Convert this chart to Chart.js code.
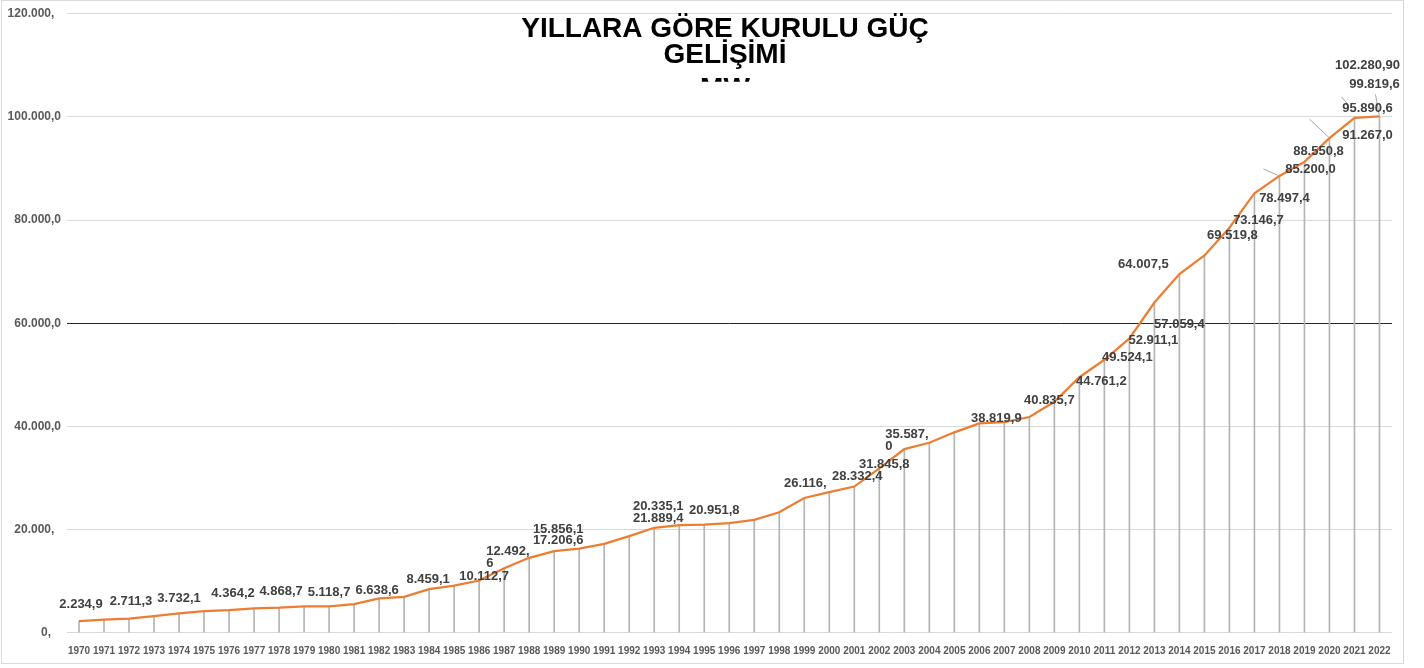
<!DOCTYPE html>
<html>
<head>
<meta charset="utf-8">
<title>Yıllara Göre Kurulu Güç Gelişimi</title>
<script src="https://cdn.jsdelivr.net/npm/chart.js@4.4.0/dist/chart.umd.min.js"></script>
<style>
  html, body { margin: 0; padding: 0; background: #fff; }
  #frame { position: absolute; left: 1px; top: 0; width: 1401px; height: 662px; border: 1px solid #d9d9d9; }
  #chart { display: block; }
</style>
</head>
<body>
<div id="frame"><canvas id="chart" width="1401" height="662"></canvas></div>
<script>
var years = ['1970', '1971', '1972', '1973', '1974', '1975', '1976', '1977', '1978', '1979',
  '1980', '1981', '1982', '1983', '1984', '1985', '1986', '1987', '1988', '1989',
  '1990', '1991', '1992', '1993', '1994', '1995', '1996', '1997', '1998', '1999',
  '2000', '2001', '2002', '2003', '2004', '2005', '2006', '2007', '2008', '2009',
  '2010', '2011', '2012', '2013', '2014', '2015', '2016', '2017', '2018', '2019',
  '2020', '2021', '2022'];

// kurulu guc, MW
var capacityMW = [2234.9, 2534.8, 2711.3, 3193.7, 3732.1, 4186.6, 4364.2, 4727.1, 4868.7, 5118.7,
  5118.7, 5537.6, 6638.6, 6935.1, 8461.6, 9121.5, 10112.7, 12495.1, 14520.6, 15808.0,
  16317.6, 17206.6, 18716.1, 20337.6, 20859.8, 20951.7, 21249.4, 21891.9, 23354.0, 26119.3,
  27264.1, 28332.4, 31845.8, 35587.0, 36824.0, 38843.5, 40564.8, 40835.7, 41817.2, 44761.2,
  49524.1, 52911.1, 57059.4, 64007.5, 69519.8, 73146.7, 78497.4, 85200.0, 88550.8, 91267.0,
  95890.6, 99819.6, 100100.0];

var yTickValues = [0, 20000, 40000, 60000, 80000, 100000, 120000];
var yTickLabels = ['0,   ', '20.000,  ', '40.000,0', '60.000,0', '80.000,0', '100.000,0', '120.000,  '];

var titleLines = ['YILLARA GÖRE KURULU GÜÇ', 'GELİŞİMİ', 'MW'];

var labelYears = ['1970', '1972', '1974', '1976', '1978', '1980', '1982', '1984', '1986', '1987',
  '1989', '1989', '1993', '1993', '1995', '1999', '2001', '2002', '2003', '2007',
  '2009', '2010', '2011', '2012', '2013', '2014', '2016', '2017', '2018', '2019',
  '2020', '2021', '2021', '2022', '2022'];
var labelTexts = ['2.234,9', '2.711,3', '3.732,1', '4.364,2', '4.868,7', '5.118,7', '6.638,6', '8.459,1', '10.112,7', '12.492,\n6',
  '15.856,1', '17.206,6', '20.335,1', '21.889,4', '20.951,8', '26.116,', '28.332,4', '31.845,8', '35.587,\n0', '38.819,9',
  '40.835,7', '44.761,2', '49.524,1', '52.911,1', '57.059,4', '64.007,5', '69.519,8', '73.146,7', '78.497,4', '85.200,0',
  '88.550,8', '91.267,0', '95.890,6', '99.819,6', '102.280,90'];

// label placement relative to its point (px)
var labelOffsets = [[2, -17], [2, -17], [0, -15], [4, -17], [2, -16], [0, -14], [-2, -8], [-1, -10], [5, -4], [-18, -17],
  [4, -22], [4, -11], [4, -21], [4, -9], [10, -14], [1, -15], [3, -10], [5, -4], [-19, -15], [-8, -4],
  [-5, -1], [22, 4], [23, -2], [24, 2], [25, 22], [-36, -10], [3, 8], [4, 27], [5, 22], [6, 8],
  [-11, 13], [13, 18], [13, -9], [-5, -32], [-12, -51]];

// thin leader lines: year, x1, y1, x2, y2 relative to the point
var leaders = [['2022', -4, -22, 0, 0], ['2021', -13, -21, -7, -14], ['2020', -20, -19, 0, 0], ['2018', -16, -7, 0, 0]];

var overlayPlugin = {
  id: 'overlay',
  afterDatasetsDraw: function (chart) {
    var ctx = chart.ctx;
    var pts = chart.getDatasetMeta(1).data;
    ctx.save();
    ctx.strokeStyle = '#a6a6a6';
    ctx.lineWidth = 1;
    leaders.forEach(function (l) {
      var p = pts[years.indexOf(l[0])];
      ctx.beginPath();
      ctx.moveTo(p.x + l[1], p.y + l[2]);
      ctx.lineTo(p.x + l[3], p.y + l[4]);
      ctx.stroke();
    });
    ctx.font = 'bold 13px "Liberation Sans", Arial, sans-serif';
    ctx.fillStyle = '#404040';
    ctx.textBaseline = 'middle';
    labelTexts.forEach(function (text, k) {
      var p = pts[years.indexOf(labelYears[k])];
      var off = labelOffsets[k];
      var lines = text.split('\n');
      ctx.textAlign = lines.length > 1 ? 'left' : 'center';
      lines.forEach(function (line, j) {
        ctx.fillText(line, p.x + off[0], p.y + off[1] + j * 12);
      });
    });
    ctx.restore();
  },
  afterDraw: function (chart) {
    var ctx = chart.ctx;
    ctx.save();
    ctx.beginPath();
    ctx.rect(0, 0, chart.width, 80.7);
    ctx.clip();
    ctx.font = 'bold 28px "Liberation Sans", Arial, sans-serif';
    ctx.fillStyle = '#000';
    ctx.textAlign = 'center';
    ctx.textBaseline = 'alphabetic';
    var baselines = [36.3, 62.3, 96.3];
    titleLines.forEach(function (line, i) {
      ctx.fillText(line, 723, baselines[i]);
    });
    ctx.restore();
  }
};

new Chart(document.getElementById('chart').getContext('2d'), {
  type: 'bar',
  data: {
    labels: years,
    datasets: [{
      type: 'bar',
      data: capacityMW,
      backgroundColor: '#b4b4b4',
      barThickness: 1,
      order: 2
    }, {
      type: 'line',
      data: capacityMW,
      borderColor: '#ed7d31',
      borderWidth: 2.25,
      pointRadius: 0,
      tension: 0,
      fill: false,
      order: 1
    }]
  },
  options: {
    responsive: false,
    animation: false,
    devicePixelRatio: 1,
    layout: { padding: { top: 12.3, right: 10.2, left: 0, bottom: 0 } },
    plugins: { legend: { display: false }, tooltip: { enabled: false } },
    scales: {
      x: {
        offset: true,
        grid: { display: false, drawTicks: false },
        border: { display: false },
        ticks: {
          autoSkip: false,
          maxRotation: 0,
          minRotation: 0,
          padding: 12.3,
          color: '#595959',
          font: { family: 'Liberation Sans', size: 10, weight: 'bold' }
        },
        afterFit: function (s) { s.height = 30.3; }
      },
      y: {
        min: 0,
        max: 120000,
        border: { display: false },
        grid: {
          drawTicks: false,
          lineWidth: 1,
          color: function (c) { return c.tick && c.tick.value === 60000 ? '#262626' : '#d9d9d9'; }
        },
        ticks: {
          padding: 5.5,
          color: '#595959',
          font: { family: 'Liberation Sans', size: 12, weight: 'bold' },
          callback: function (value, index) { return yTickLabels[index]; }
        },
        afterBuildTicks: function (s) {
          s.ticks = yTickValues.map(function (v) { return { value: v }; });
        },
        afterFit: function (s) { s.width = 64.5; }
      }
    }
  },
  plugins: [overlayPlugin]
});
</script>
</body>
</html>
